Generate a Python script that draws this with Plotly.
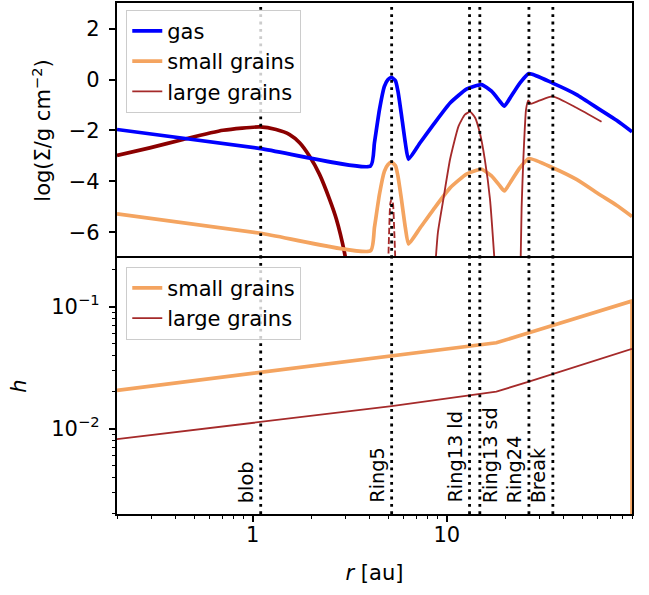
import numpy as np
import plotly.graph_objects as go
from plotly.subplots import make_subplots

# ---------------- surface density, log10(Sigma / g cm^-2) ----------------
gas_r = [0.2, 1.1, 4.05, 4.24, 4.5, 4.77, 4.97, 5.19, 5.44, 5.6, 5.82, 6.12, 6.35,
         7.29, 8.53, 10.4, 12.7, 15.1, 17.0, 18.8, 19.8, 21.2, 23.8, 26.5,
         35.1, 46.6, 61.5, 74.9, 90.0]
gas_sigma = [-1.96, -2.71, -3.39, -2.48, -1.18, -0.27, -0.01, 0.08, -0.05, -0.45, -1.3, -2.5, -3.13,
             -2.48, -1.77, -0.92, -0.37, -0.20, -0.46, -0.86, -1.05, -0.72, -0.14, 0.23,
             -0.14, -0.59, -1.18, -1.60, -2.05]

small_r = [0.2, 1.1, 4.05, 4.24, 4.5, 4.77, 4.97, 5.19, 5.44, 5.6, 5.82, 6.12, 6.35,
           7.29, 8.53, 10.4, 12.7, 15.1, 17.0, 18.8, 19.8, 21.2, 23.8, 26.5,
           35.1, 46.6, 61.5, 74.9, 90.0]
small_sigma = [-5.27, -6.03, -6.72, -5.80, -4.50, -3.60, -3.34, -3.24, -3.38, -3.78, -4.62, -5.82, -6.45,
               -5.82, -5.10, -4.25, -3.70, -3.52, -3.78, -4.18, -4.37, -4.05, -3.46, -3.10,
               -3.46, -3.92, -4.52, -4.93, -5.37]

# large grains: Ring13 ring and the outer disc (drawn as one trace with a gap)
large_r = [8.6, 9.0, 9.6, 10.4, 11.5, 12.4, 13.2, 14.0, 14.8, 15.7, 16.7, 17.8, None,
           23.9, 24.3, 24.8, 25.2, 25.6, 26.3, 27.1, 30.2, 35.1, 46.6, 62.7]
large_sigma = [-8.0, -6.0, -4.70, -3.13, -1.83, -1.38, -1.27, -1.50, -2.09, -3.13, -4.70, -7.6, None,
               -8.0, -5.0, -3.13, -2.0, -1.18, -0.82, -0.95, -0.82, -0.66, -1.11, -1.66]

# large grains trapped in Ring5 (narrow, dashed)
ring5_r = [4.98, 5.05, 5.12, 5.2, 5.28, 5.36, 5.46]
ring5_sigma = [-7.6, -5.9, -4.85, -4.70, -4.85, -5.9, -7.6]

# inner blob of large grains
blob_r = [0.2, 0.295, 0.438, 0.705, 1.09, 1.32, 1.55, 1.745, 1.96, 2.21, 2.49, 2.70, 2.97, 3.08]
blob_sigma = [-2.98, -2.68, -2.35, -1.99, -1.86, -1.96, -2.16, -2.48, -3.0, -3.72, -4.70, -5.48, -6.78, -7.5]

# ---------------- aspect ratio h ----------------
h_r = [0.2, 1.1, 5.2, 18.0, 26.5, 90.0, 90.0]
h_small = [0.0206, 0.0288, 0.0390, 0.0505, 0.0610, 0.111, 1e-4]
h_large_r = [0.2, 1.1, 5.2, 18.0, 26.5, 90.0]
h_large = [0.0082, 0.0114, 0.0153, 0.0201, 0.0243, 0.0451]

# ---------------- radial markers ----------------
ring_names = ["blob", "Ring5", "Ring13 ld", "Ring13 sd", "Ring24", "Break"]
ring_r = [1.1, 5.2, 13.1, 14.8, 26.5, 35.2]

# axis limits and ticks
r_lim = [0.2, 90.0]
sigma_lim = [-7, 3]
sigma_ticks = [-6, -4, -2, 0, 2]
h_lim = [0.002, 0.25]
h_ticks = [0.01, 0.1]
h_ticktext = ["10<sup>\u22122</sup>", "10<sup>\u22121</sup>"]
r_ticks = [1, 10]

BLUE = "#0000ff"
SANDY = "#f4a460"
BROWN = "#a52a2a"
DARKRED = "#8b0000"
FONT = "DejaVu Sans"
FS = 21
FS_LABEL = 19.3

fig = make_subplots(rows=2, cols=1, shared_xaxes=True, vertical_spacing=0)

# top panel
fig.add_trace(go.Scatter(x=blob_r, y=blob_sigma, mode="lines", line=dict(color=DARKRED, width=3.7, shape="spline", smoothing=0.6),
                         showlegend=False, hoverinfo="skip"), row=1, col=1)
fig.add_trace(go.Scatter(x=gas_r, y=gas_sigma, mode="lines", name="gas", legend="legend",
                         line=dict(color=BLUE, width=3.7, shape="spline", smoothing=0.5)), row=1, col=1)
fig.add_trace(go.Scatter(x=small_r, y=small_sigma, mode="lines", name="small grains", legend="legend",
                         line=dict(color=SANDY, width=3.7, shape="spline", smoothing=0.5)), row=1, col=1)
fig.add_trace(go.Scatter(x=large_r, y=large_sigma, mode="lines", name="large grains", legend="legend",
                         line=dict(color=BROWN, width=1.84, shape="spline", smoothing=0.5), connectgaps=False), row=1, col=1)
fig.add_trace(go.Scatter(x=ring5_r, y=ring5_sigma, mode="lines", showlegend=False,
                         line=dict(color=BROWN, width=1.84, dash="6.8px,2.9px", shape="spline", smoothing=0.6)), row=1, col=1)

# bottom panel
fig.add_trace(go.Scatter(x=h_r, y=h_small, mode="lines", name="small grains", legend="legend2",
                         line=dict(color=SANDY, width=3.7)), row=2, col=1)
fig.add_trace(go.Scatter(x=h_large_r, y=h_large, mode="lines", name="large grains", legend="legend2",
                         line=dict(color=BROWN, width=1.84)), row=2, col=1)

# dotted radial markers in both panels
vx, vy_top, vy_bot = [], [], []
for r in ring_r:
    vx += [r, r, None]
    vy_top += [sigma_lim[0], sigma_lim[1], None]
    vy_bot += [h_lim[0], h_lim[1], None]
dot = dict(color="black", width=2.8, dash="2.8px,4.5px")
fig.add_trace(go.Scatter(x=vx, y=vy_top, mode="lines", line=dot, showlegend=False, hoverinfo="skip"), row=1, col=1)
fig.add_trace(go.Scatter(x=vx, y=vy_bot, mode="lines", line=dot, showlegend=False, hoverinfo="skip"), row=2, col=1)

# rotated marker labels
for name, r in zip(ring_names, ring_r):
    right_side = name == "Ring13 sd"
    fig.add_annotation(x=np.log10(r), y=0, xref="x2", yref="paper", text=name, showarrow=False,
                       textangle=-90, xanchor="left" if right_side else "right",
                       xshift=-3 if right_side else -1, yanchor="bottom", yshift=9,
                       font=dict(family=FONT, size=FS_LABEL, color="black"))

minor_r = [k * 10.0 ** n for n in (-1, 0, 1) for k in range(2, 10) if r_lim[0] <= k * 10.0 ** n <= r_lim[1]]
minor_h = [k * 10.0 ** n for n in (-3, -2, -1) for k in range(2, 10) if h_lim[0] <= k * 10.0 ** n <= h_lim[1]]

axis_common = dict(showline=True, linecolor="black", linewidth=1.5, showgrid=False, zeroline=False,
                   tickfont=dict(family=FONT, size=FS, color="black"), tickcolor="black")

fig.update_xaxes(type="log", range=[np.log10(r_lim[0]), np.log10(r_lim[1])], **axis_common)
# top panel: only the upper frame line, the shared edge comes from the lower panel
fig.update_xaxes(ticks="", showticklabels=False, side="top", mirror=False, row=1, col=1)
fig.update_xaxes(ticks="outside", ticklen=6.4, tickwidth=1.5, tickvals=r_ticks, ticktext=["1", "10"], mirror=True,
                 ticklabelstandoff=-5,
                 minor=dict(tickvals=minor_r, ticks="outside", ticklen=3.7, tickwidth=1.1, tickcolor="black", showgrid=False),
                 title=dict(text="<i>r</i> [au]", font=dict(family=FONT, size=FS, color="black"), standoff=19),
                 row=2, col=1)

fig.update_yaxes(range=sigma_lim, tickvals=sigma_ticks, ticks="outside", ticklen=6.4, tickwidth=1.5,
                 domain=[0.501, 1.0], mirror=True, ticklabelstandoff=5,
                 title=dict(text="log(\u03a3/g cm<sup>\u22122</sup>)", font=dict(family=FONT, size=FS, color="black"), standoff=12),
                 row=1, col=1, **axis_common)
fig.update_yaxes(type="log", range=[np.log10(h_lim[0]), np.log10(h_lim[1])], tickvals=h_ticks, ticktext=h_ticktext,
                 ticks="outside", ticklen=6.4, tickwidth=1.5, domain=[0.0, 0.501], mirror=True, ticklabelstandoff=5,
                 minor=dict(tickvals=minor_h, ticks="outside", ticklen=3.7, tickwidth=1.1, tickcolor="black", showgrid=False),
                 title=dict(text="<i>h</i>", font=dict(family=FONT, size=FS, color="black"), standoff=19),
                 row=2, col=1, **axis_common)

legend_style = dict(xanchor="left", yanchor="top", bgcolor="rgba(255,255,255,0.8)", bordercolor="#cccccc",
                    borderwidth=1, font=dict(family=FONT, size=FS, color="black"), tracegroupgap=0)
fig.update_layout(
    width=649, height=595,
    margin=dict(l=117, r=17, t=3, b=81),
    paper_bgcolor="white", plot_bgcolor="white",
    font=dict(family=FONT, size=FS, color="black"),
    legend=dict(x=0.018, y=0.987, **legend_style),
    legend2=dict(x=0.018, y=0.484, **legend_style),
)

fig.write_html("out.html")
